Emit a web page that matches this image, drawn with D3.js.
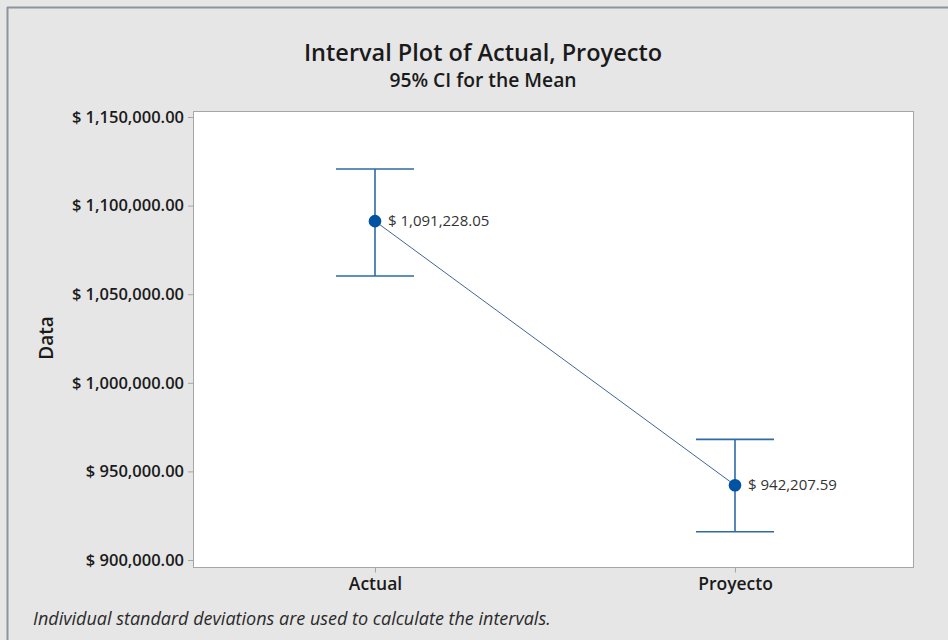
<!DOCTYPE html>
<html>
<head>
<meta charset="utf-8">
<script src="https://cdn.jsdelivr.net/npm/d3@7"></script>
<style>
  html, body { margin: 0; padding: 0; background: #e6e6e6; }
  svg { display: block; }
</style>
</head>
<body>
<svg id="chart" width="948" height="640"></svg>
<script>
// Interval plot: group means with 95% confidence intervals
const categories = ["Actual", "Proyecto"];
const means = [1091228.05, 942207.59];
const ciLower = [1060270, 915970];
const ciUpper = [1120650, 968100];
const yTicks = [900000, 950000, 1000000, 1050000, 1100000, 1150000];

const FONT = "'Open Sans', 'Noto Sans', sans-serif";
const svg = d3.select("#chart");
const W = 948, H = 640;

const plot = { left: 193, top: 111, right: 913, bottom: 567 };

// Outer frame
svg.append("rect").attr("x", 0).attr("y", 0).attr("width", W).attr("height", H).attr("fill", "#e6e6e6");
svg.append("line").attr("x1", 7).attr("x2", W).attr("y1", 7.5).attr("y2", 7.5)
  .attr("stroke", "#8c939c").attr("stroke-width", 2);
svg.append("line").attr("x1", 7.5).attr("x2", 7.5).attr("y1", 7).attr("y2", H)
  .attr("stroke", "#8c939c").attr("stroke-width", 2);

// Scales
const x = d3.scalePoint().domain(categories).range([plot.left + 2, plot.right + 2]).padding(0.5);
const y = d3.scaleLinear().domain([896050, 1153390]).range([plot.bottom, plot.top]);

// Plot area
svg.append("rect")
  .attr("x", plot.left + 0.5).attr("y", plot.top + 0.5)
  .attr("width", plot.right - plot.left).attr("height", plot.bottom - plot.top)
  .attr("fill", "#ffffff").attr("stroke", "#a6a6a6").attr("stroke-width", 1);

// Titles
svg.append("text").attr("x", 483).attr("y", 61).attr("text-anchor", "middle")
  .attr("font-family", FONT).attr("font-size", 23.5).attr("font-weight", 600).attr("fill", "#1a1a1a")
  .text("Interval Plot of Actual, Proyecto");
svg.append("text").attr("x", 483).attr("y", 87).attr("text-anchor", "middle")
  .attr("font-family", FONT).attr("font-size", 19.3).attr("font-weight", 600).attr("fill", "#1a1a1a")
  .text("95% CI for the Mean");

// Y axis
const fmt = d => "$ " + d3.format(",.2f")(d);
const yAxis = svg.append("g").attr("transform", `translate(${plot.left},0)`)
  .call(d3.axisLeft(y).tickValues(yTicks).tickFormat(fmt).tickSize(5).tickPadding(4));
yAxis.select(".domain").remove();
yAxis.selectAll(".tick line").attr("stroke", "#a6a6a6");
yAxis.selectAll(".tick text")
  .attr("font-family", FONT).attr("font-size", 16.5).attr("font-weight", 600).attr("fill", "#1a1a1a");

svg.append("text").attr("transform", "translate(53,338) rotate(-90)").attr("text-anchor", "middle")
  .attr("font-family", FONT).attr("font-size", 19).attr("font-weight", 600).attr("fill", "#1a1a1a")
  .text("Data");

// X axis
const xAxis = svg.append("g").attr("transform", `translate(0,${plot.bottom + 0.5})`)
  .call(d3.axisBottom(x).tickSize(5).tickPadding(5));
xAxis.select(".domain").remove();
xAxis.selectAll(".tick line").attr("stroke", "#a6a6a6");
xAxis.selectAll(".tick text")
  .attr("font-family", FONT).attr("font-size", 17.5).attr("font-weight", 600).attr("fill", "#1a1a1a");

// Footnote
svg.append("text").attr("x", 33).attr("y", 625)
  .attr("font-family", FONT).attr("font-size", 18).attr("font-style", "italic").attr("fill", "#2a2a2a")
  .text("Individual standard deviations are used to calculate the intervals.");

// Connecting line between means
const pts = categories.map((c, i) => [x(c), y(means[i])]);
svg.append("path").attr("d", d3.line()(pts))
  .attr("fill", "none").attr("stroke", "#3f6796").attr("stroke-width", 1);

// Interval bars
const capHalf = 39;
const g = svg.append("g");
categories.forEach((c, i) => {
  const cx = x(c);
  g.append("line").attr("x1", cx).attr("x2", cx).attr("y1", y(ciUpper[i])).attr("y2", y(ciLower[i]))
    .attr("stroke", "#2d6aa6").attr("stroke-width", 1.6);
  [ciUpper[i], ciLower[i]].forEach(v => {
    g.append("line").attr("x1", cx - capHalf).attr("x2", cx + capHalf).attr("y1", y(v)).attr("y2", y(v))
      .attr("stroke", "#2d6aa6").attr("stroke-width", 1.6);
  });
  g.append("circle").attr("cx", cx).attr("cy", y(means[i])).attr("r", 6.3).attr("fill", "#0052a3");
  g.append("text").attr("x", cx + 13).attr("y", y(means[i]) + 5)
    .attr("font-family", FONT).attr("font-size", 15).attr("fill", "#333333")
    .text(fmt(means[i]));
});
</script>
</body>
</html>
